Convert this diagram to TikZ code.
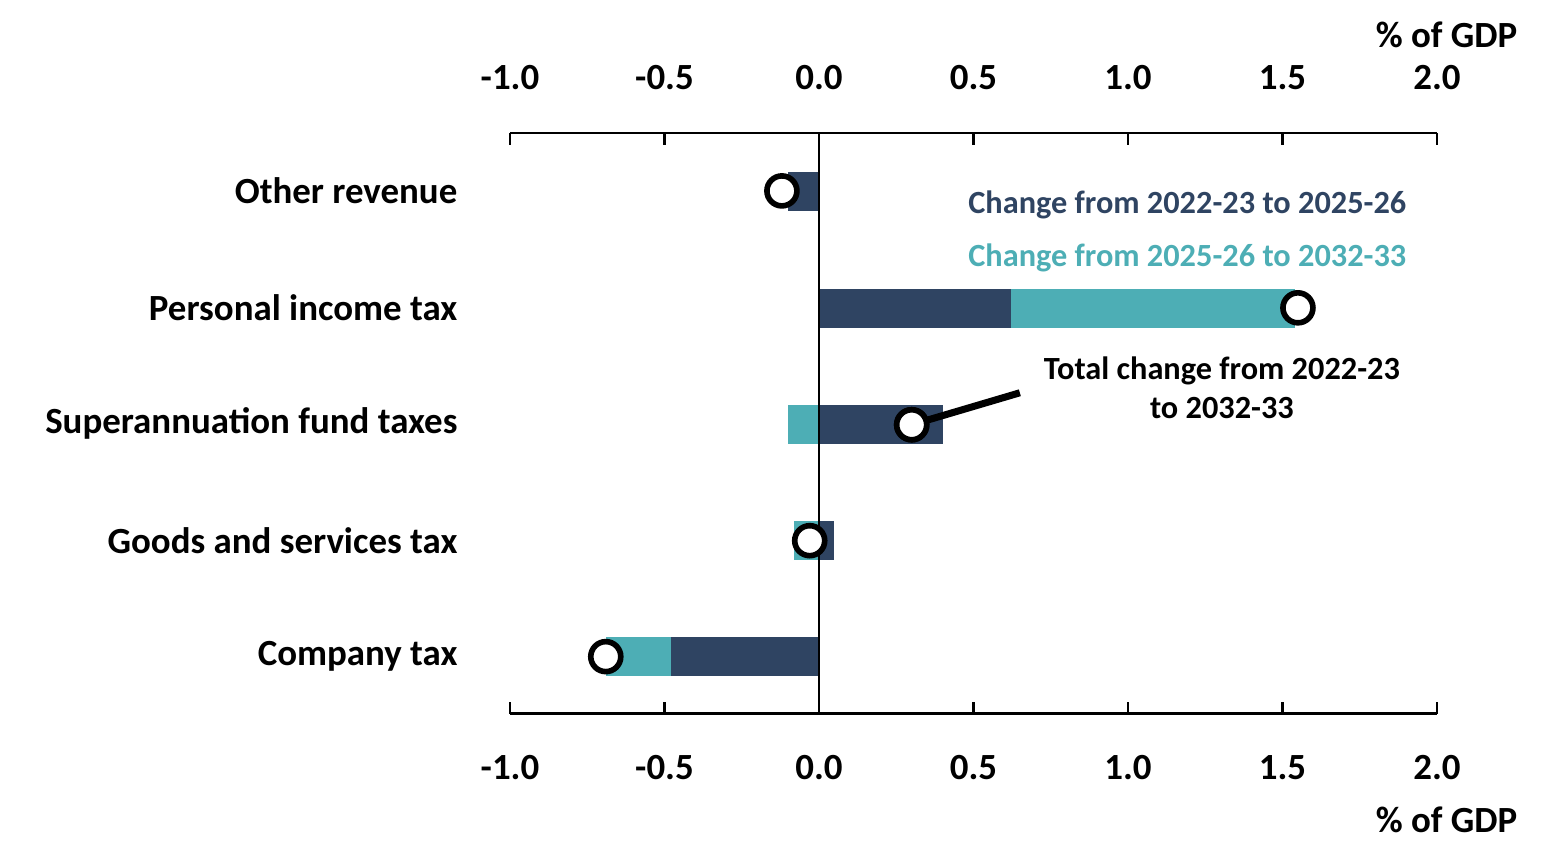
\documentclass[tikz,border=0pt]{standalone}
\usepackage{fontspec}
\setmainfont{Carlito}
\definecolor{darkbar}{HTML}{2F4462}
\definecolor{tealbar}{HTML}{4DAEB5}
\begin{document}
\begin{tikzpicture}[x=3.09cm,y=-0.01cm,
	bar/.style={inner sep=0pt},
	dot/.style={circle,draw=black,line width=1.6pt,fill=white,minimum size=0.3cm,inner sep=0pt},
	lbl/.style={font=\bfseries\fontsize{10.5}{12}\selectfont},
	small/.style={font=\bfseries\fontsize{9.2}{11}\selectfont}]
	\useasboundingbox (-2.6505,0) rectangle (2.3528,851);
	% axes
	\draw[line width=0.8pt] (-1,133) -- (2,133);
	\draw[line width=0.8pt] (-1,714) -- (2,714);
	\foreach \x/\xtext in {-1/-1.0,-0.5/-0.5,0/0.0,0.5/0.5,1/1.0,1.5/1.5,2/2.0} {
		\draw[line width=0.8pt] (\x,133) -- (\x,145);
		\draw[line width=0.8pt] (\x,714) -- (\x,702);
		\node[lbl] (t\x) at (\x,78) {\xtext};
		\node[lbl] (b\x) at (\x,768) {\xtext};
	}
	\node[lbl,anchor=east] (unittop) at (2.3,35) {\% of GDP};
	\node[lbl,anchor=east] (unitbot) at (2.3,820) {\% of GDP};
	% bars
	\fill[darkbar] (-0.1,172) rectangle (0,211);
	\fill[darkbar] (0,289) rectangle (0.62,328);
	\fill[tealbar] (0.62,289) rectangle (1.54,328);
	\fill[tealbar] (-0.1,405) rectangle (0,444);
	\fill[darkbar] (0,405) rectangle (0.4,444);
	\fill[tealbar] (-0.08,521) rectangle (0,560);
	\fill[darkbar] (0,521) rectangle (0.05,560);
	\fill[darkbar] (0,637) rectangle (-0.48,676);
	\fill[tealbar] (-0.48,637) rectangle (-0.69,676);
	\draw[line width=0.8pt] (0,133) -- (0,714);
	% categories
	\foreach \y/\name/\ytext in {191/oth/Other revenue,308/pit/Personal income tax,424/sup/Superannuation fund taxes,541/gst/Goods and services tax,657/com/Company tax}
		\node[lbl,anchor=east] (\name) at (-1.13,\y) {\ytext};
	% totals
	\node[dot] (doth) at (-0.12,191) {};
	\node[dot] (dpit) at (1.55,308) {};
	\node[dot] (dsup) at (0.3,425) {};
	\node[dot] (dgst) at (-0.03,541) {};
	\node[dot] (dcom) at (-0.69,657) {};
	% legend
	\node[small,text=darkbar,anchor=east] (leg1) at (1.941,205) {Change from 2022-23 to 2025-26};
	\node[small,text=tealbar,anchor=east] (leg2) at (1.941,258) {Change from 2025-26 to 2032-33};
	\node[small,align=center] (note) at (1.304,388) {Total change from 2022-23\\to 2032-33};
	\coordinate (noteend) at (0.65,393);
	\draw[line width=2pt] (noteend) -- (dsup.center);
	\node[dot] at (dsup) {};
\end{tikzpicture}
\end{document}
